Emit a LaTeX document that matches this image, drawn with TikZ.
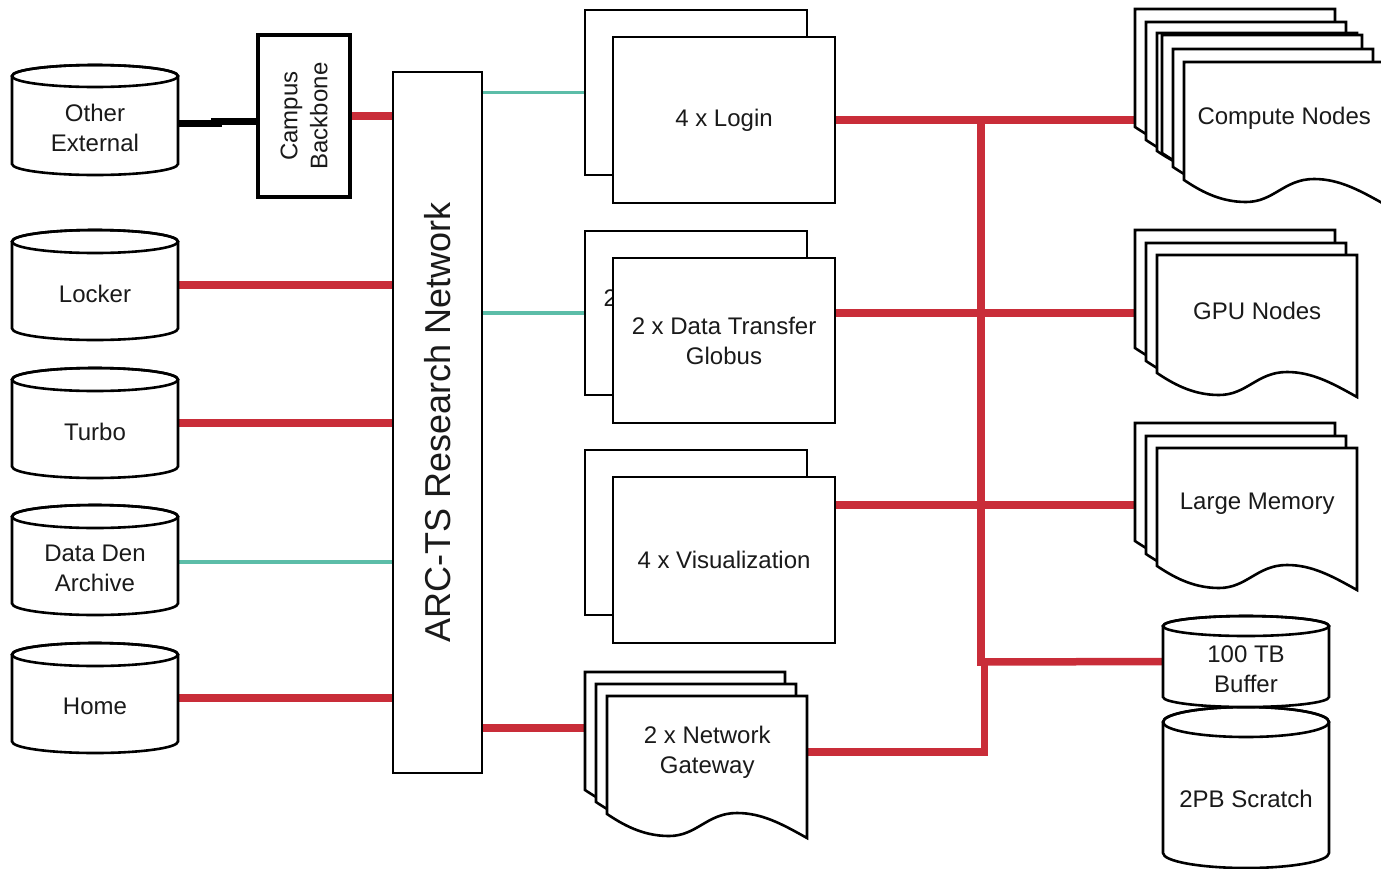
\documentclass[tikz,border=0pt]{standalone}
\usepackage{fontspec}
\setmainfont{Liberation Sans}
\usetikzlibrary{calc}
\pgfdeclarelayer{bg}
\pgfsetlayers{bg,main}
\definecolor{netred}{HTML}{C92D39}
\definecolor{netteal}{HTML}{5CBDA8}
\definecolor{ink}{HTML}{1A1A1A}
\tikzset{
  shapeline/.style={draw=black, line width=2.6pt, line join=miter},
  boxnode/.style={shapeline, fill=white, inner sep=0pt, text=ink, align=center,
    font=\fontsize{24}{30}\selectfont},
  txt/.style={text=ink, align=center, inner sep=0pt, font=\fontsize{24}{30}\selectfont},
  redlink/.style={draw=netred, line width=7.5pt},
  teallink/.style={draw=netteal, line width=3.6pt},
  blacklink/.style={draw=black, line width=7pt},
}
% cylinder: name, left, top, right, bottom, ry, text
\newcommand\drawcyl[7]{%
  \pgfmathsetmacro\cxa{(#2+#4)/2}%
  \pgfmathsetmacro\cya{(#3+#5)/2}%
  \pgfmathsetmacro\rxa{(#4-#2)/2}%
  \pgfmathsetmacro\wa{#4-#2}%
  \pgfmathsetmacro\ha{#5-#3}%
  \pgfmathsetmacro\tya{#3+#6}%
  \pgfmathsetmacro\bya{#5-#6}%
  \pgfmathsetmacro\txa{(#3+1.5*#6+#5)/2}%
  \node[inner sep=0pt, minimum width=\wa pt, minimum height=\ha pt] (#1) at (\cxa,\cya) {};
  \draw[shapeline, fill=white] (#2,\tya) -- (#2,\bya)
     arc[start angle=180, end angle=360, x radius=\rxa pt, y radius=#6pt]
     -- (#4,\tya)
     arc[start angle=0, end angle=180, x radius=\rxa pt, y radius=#6pt] -- cycle;
  \draw[shapeline] (\cxa,\tya) ellipse[x radius=\rxa pt, y radius=#6pt];
  \node[txt] at (\cxa,\txa) {#7};
}
% document sheet: name, x, y, text
\newcommand\docsheet[4]{%
  \begin{scope}[shift={(#2,#3)}]
    \draw[shapeline, fill=white] (0,0) -- (200,0) -- (200,142)
      .. controls (175,128) and (155,117) .. (130,117)
      .. controls (100,117) and (90,140) .. (62,140)
      .. controls (35,140) and (15,128) .. (0,118) -- cycle;
  \end{scope}
  \node[txt, minimum width=200pt, minimum height=112pt, anchor=north west] (#1) at (#2,#3) {#4};
}
\begin{document}
\begin{tikzpicture}[x=1pt, y=-1pt]
\useasboundingbox (0,0) rectangle (1381,868);

% left storage
\drawcyl{oe}{12}{65}{178}{175}{11}{Other\\External}
\drawcyl{locker}{12}{230}{178}{340}{11.5}{Locker}
\drawcyl{turbo}{12}{368}{178}{478}{11.5}{Turbo}
\drawcyl{dataden}{12}{505}{178}{615}{11.5}{Data Den\\Archive}
\drawcyl{home}{12}{643}{178}{753}{11.5}{Home}

% campus backbone
\node[boxnode, line width=3.6pt, minimum width=92pt, minimum height=162pt] (cb) at (304,116) {};
\node[txt, rotate=90] at (cb.center) {Campus\\Backbone};

% research network bar
\node[boxnode, minimum width=89pt, minimum height=701pt] (bar) at (437.5,422.5) {};
\node[txt, rotate=90, font=\fontsize{36}{40}\selectfont] at (bar.center) {ARC-TS Research Network};

% login
\node[boxnode, minimum width=222pt, minimum height=165pt] (loginB) at (696,92.5) {};
\node[boxnode, minimum width=222pt, minimum height=166pt] (loginF) at (724,120) {4 x Login};
% data transfer (back sheet shows only the edge of its label)
\node[boxnode, minimum width=222pt, minimum height=164pt] (dtB) at (696,313) {};
\node[txt, anchor=west] (dtBlabel) at (603.5,298) {2};
\node[boxnode, minimum width=222pt, minimum height=165pt] (dtF) at (724,340.5) {2 x Data Transfer\\Globus};
% visualization
\node[boxnode, minimum width=222pt, minimum height=165pt] (visB) at (696,532.5) {};
\node[boxnode, minimum width=222pt, minimum height=166pt] (visF) at (724,560) {4 x Visualization};

% network gateway
\docsheet{gw1}{585}{672}{}
\docsheet{gw2}{596}{684}{}
\docsheet{gw3}{607}{696}{2 x Network\\Gateway}

% compute nodes
\docsheet{cn1}{1135}{9}{}
\docsheet{cn2}{1146}{22}{}
\docsheet{cn3}{1157}{33}{}
\docsheet{cn4}{1162}{35}{}
\docsheet{cn5}{1173}{49}{}
\docsheet{cn6}{1184}{62}{Compute Nodes}

% gpu nodes
\docsheet{gpu1}{1135}{230}{}
\docsheet{gpu2}{1146}{243}{}
\docsheet{gpu3}{1157}{255}{GPU Nodes}

% large memory
\docsheet{lm1}{1135}{423}{}
\docsheet{lm2}{1146}{436}{}
\docsheet{lm3}{1157}{448}{Large Memory}

% scratch storage
\drawcyl{scratch}{1163}{707}{1329}{868}{15}{2PB Scratch}
\drawcyl{buffer}{1163}{616}{1329}{707}{10}{100 TB\\Buffer}

\coordinate (spTop) at (981,120);
\coordinate (spBuf) at (981,662);
\coordinate (spGw) at (984.5,658);
\coordinate (visR) at ($(visF.east)+(0,-55)$);

\begin{pgfonlayer}{bg}
  % black external link
  \draw[blacklink] ($(oe.east)+(0,3)$) -- ($(oe.east)+(44,3)$);
  \draw[blacklink] ($(cb.west)+(-45,5)$) -- ($(cb.west)+(0,5)$);
  % into the research network
  \draw[redlink] (cb.east) -- (bar.west |- cb.east);
  \draw[redlink] (locker.east) -- (bar.west |- locker.east);
  \draw[redlink] (turbo.east) -- (bar.west |- turbo.east);
  \draw[teallink] ($(dataden.east)+(0,2)$) -- ($(bar.west |- dataden.east)+(0,2)$);
  \draw[redlink] (home.east) -- (bar.west |- home.east);
  % out of the research network
  \draw[teallink] (bar.east |- loginB.west) -- (loginB.west);
  \draw[teallink] (bar.east |- dtB.west) -- (dtB.west);
  \draw[redlink] (bar.east |- gw1.west) -- (gw1.west);
  % cluster fabric
  \draw[redlink] (loginF.east) -- (cn4.west |- loginF.east);
  \draw[redlink] (dtF.east |- dtB.east) -- (gpu1.west |- dtB.east);
  \draw[redlink] (visR) -- (lm1.west |- visR);
  \draw[redlink, line cap=rect] (spTop) -- (spBuf);
  \draw[redlink] (spBuf) -- (buffer.west);
  \draw[redlink, line join=miter] (gw3.east) -| (spGw);
\end{pgfonlayer}
\end{tikzpicture}
\end{document}
